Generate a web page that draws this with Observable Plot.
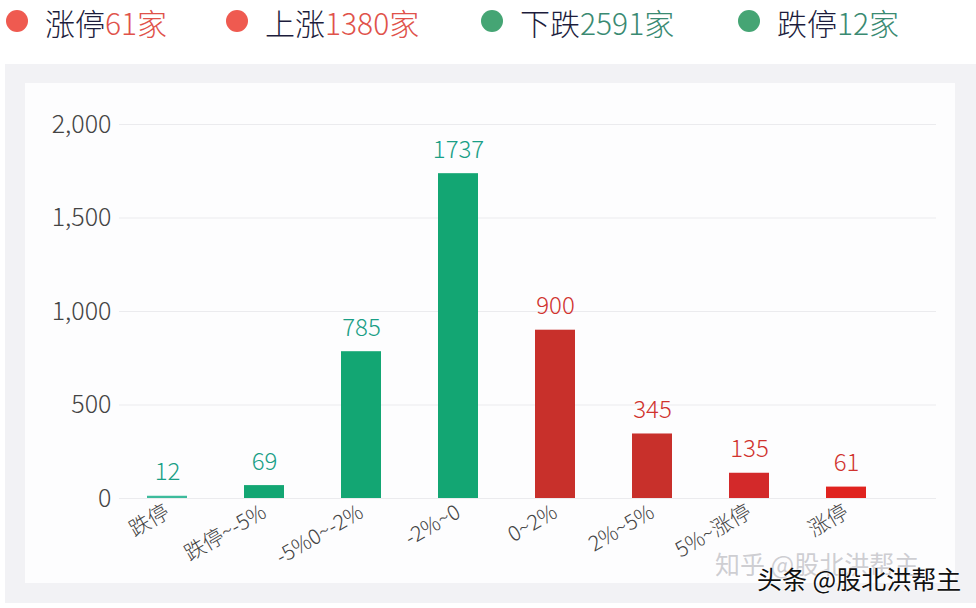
<!DOCTYPE html>
<html><head><meta charset="utf-8">
<script src="https://cdn.jsdelivr.net/npm/d3@7"></script>
<script src="https://cdn.jsdelivr.net/npm/@observablehq/plot@0.6"></script>
<style>
body{margin:0;background:#fff;width:976px;height:608px;overflow:hidden;position:relative;font-family:"Noto Sans CJK SC","Noto Sans",sans-serif;}
#legend .item{position:absolute;top:3px;height:39px;line-height:39px;display:flex;align-items:center;font-size:30px;font-weight:300;color:#1c1c3c;white-space:nowrap;}
#legend .dot{position:absolute;width:22px;height:22px;border-radius:50%;top:10px;}
#frame{position:absolute;left:5px;top:64px;width:980px;height:539px;background:#f2f2f5;}
#panel{position:absolute;left:25px;top:83px;width:930px;height:500px;background:#fdfdfe;}
#chart{position:absolute;left:27px;top:85px;}
.wm{position:absolute;font-size:25px;white-space:nowrap;}
#wm1{left:715px;top:545px;color:rgba(185,185,190,0.7);}
#wm2{left:757px;top:560px;color:#111;text-shadow:0 0 2px #fff,0 0 2px #fff;}
</style></head><body>
<div id="legend"></div>
<div id="frame"></div><div id="panel"></div>
<div id="chart"></div>
<div class="wm" id="wm1">知乎 @股北洪帮主</div>
<div class="wm" id="wm2">头条 @股北洪帮主</div>
<script>
const categories = ["跌停","跌停~-5%","-5%0~-2%","-2%~0","0~2%","2%~5%","5%~涨停","涨停"];
const counts = [12,69,785,1737,900,345,135,61];
const barColors = ["#3dbb9c","#13a673","#13a673","#13a673","#c8302b","#c8302b","#d3292a","#e0231f"];
const labelColors = ["#1a9f86","#1a9f86","#1a9f86","#1a9f86","#d0332e","#d0332e","#d0332e","#d0332e"];
const yTicks = [0,500,1000,1500,2000];
const legendNames = ["涨停","上涨","下跌","跌停"];
const legendCounts = [61,1380,2591,12];
const legendDotColors = ["#ef5a50","#ef5a50","#45a574","#45a574"];
const legendNumColors = ["#e0524a","#e0524a","#3a8a72","#3a8a72"];

// legend
const legendLefts = [45,265,520,777];
const legend = document.getElementById("legend");
legendNames.forEach((n,i)=>{
  const dot = document.createElement("div");
  dot.className="dot"; dot.style.left=(legendLefts[i]-39)+"px"; dot.style.background=legendDotColors[i];
  legend.appendChild(dot);
  const it = document.createElement("div");
  it.className="item"; it.style.left=legendLefts[i]+"px";
  it.innerHTML = `<span>${n}</span><span style="color:${legendNumColors[i]}">${legendCounts[i]}家</span>`;
  legend.appendChild(it);
});

const data = categories.map((c,i)=>({cat:c, v:counts[i], label:labelColors[i]}));

const chart = Plot.plot({
  width: 930,
  height: 500,
  marginLeft: 90,
  marginRight: 61,
  marginTop: 39,
  marginBottom: 87,
  style: {background:"transparent", fontFamily:'"Noto Sans CJK SC","Noto Sans",sans-serif', fontWeight:300, overflow:"visible"},
  x: {domain: categories, paddingInner: 0.59, paddingOuter: 0.295, label: null},
  y: {domain: [0,2000], label: null},
  color: {domain: categories, range: barColors},
  marks: [
    Plot.ruleY(yTicks, {stroke:"#ebebee", strokeWidth:1, insetRight:-40, insetLeft:2}),
    Plot.barY(data, {x:"cat", y:"v", fill:"cat"}),
    Plot.text(data, {x:"cat", y:"v", text: d=>String(d.v), fill: d=>d.label, lineAnchor:"bottom", dy:-16, fontSize:24}),
    Plot.axisY({ticks: yTicks, tickFormat: d3.format(","), tickSize:0, tickPadding:6, fontSize:25, fill:"#444", label:null}),
    Plot.axisX({tickSize:0, tickPadding:12, tickRotate:-30, fontSize:21, fill:"#444", label:null})
  ]
});
document.getElementById("chart").appendChild(chart);
</script>
</body></html>
